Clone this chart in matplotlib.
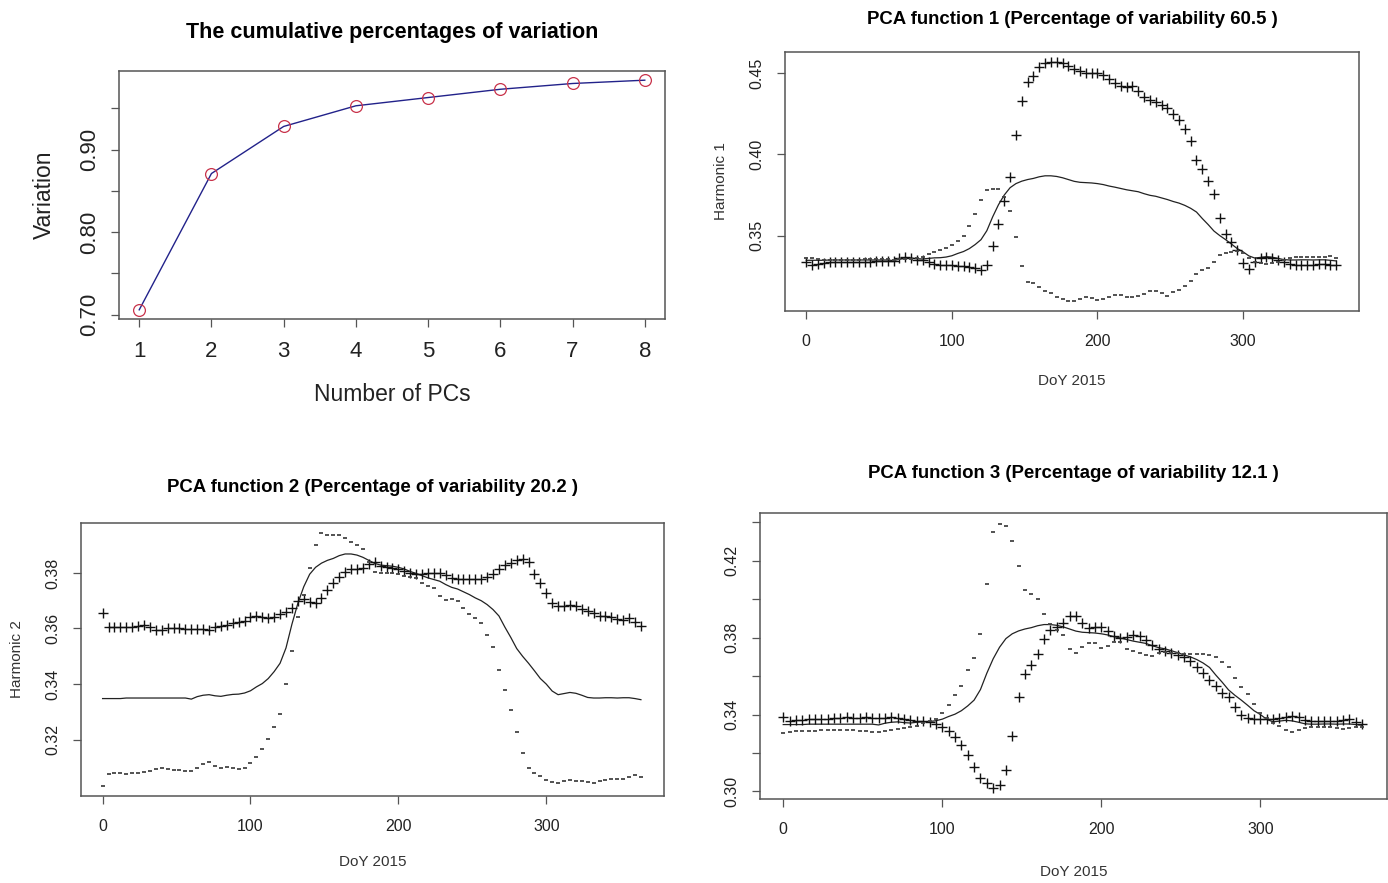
# recreate the fda PCA summary figure (4 panels)
import numpy as np
import matplotlib
matplotlib.use("Agg")
import matplotlib.pyplot as plt

plt.rcParams['font.family'] = ['Liberation Sans', 'DejaVu Sans']

# cumulative proportion of variation explained
n_pcs = [1, 2, 3, 4, 5, 6, 7, 8]
cum_var = [0.706, 0.871, 0.928, 0.953, 0.963, 0.973, 0.980, 0.984]

# day of year grid (every 4 days)
days = list(range(0, 365, 4))

# mean function (same in every panel)
mean_fd = [
    .3348, .3348, .3348, .3348, .3350, .3350, .3350, .3350, .3350, .3350,
    .3350, .3350, .3350, .3350, .3350, .3346, .3355, .3360, .3362, .3358,
    .3356, .3360, .3363, .3364, .3368, .3376, .3390, .3402, .3420, .3445,
    .3475, .3530, .3615, .3690, .3750, .3795, .3820, .3835, .3845, .3852,
    .3862, .3868, .3868, .3864, .3856, .3845, .3834, .3828, .3826, .3824,
    .3820, .3814, .3805, .3798, .3790, .3782, .3776, .3770, .3758, .3748,
    .3742, .3732, .3722, .3710, .3700, .3686, .3668, .3645, .3605, .3568,
    .3528, .3500, .3475, .3448, .3420, .3400, .3375, .3362, .3366, .3370,
    .3367, .3360, .3352, .3350, .3350, .3351, .3351, .3350, .3351, .3351,
    .3348, .3344]

# harmonic 1: mean + / - component
plus1 = [
    .3340, .3322, .3328, .3332, .3335, .3337, .3338, .3340, .3340, .3340,
    .3338, .3340, .3342, .3344, .3345, .3346, .3360, .3370, .3362, .3352,
    .3348, .3340, .3328, .3320, .3319, .3318, .3316, .3313, .3306, .3298,
    .3290, .3320, .3433, .3570, .3716, .3860, .4120, .4330, .4443, .4485,
    .4535, .4562, .4570, .4571, .4562, .4542, .4524, .4512, .4501, .4501,
    .4501, .4490, .4465, .4438, .4418, .4416, .4420, .4392, .4355, .4335,
    .4322, .4305, .4283, .4250, .4210, .4159, .4080, .3965, .3910, .3835,
    .3757, .3608, .3512, .3458, .3410, .3330, .3295, .3335, .3364, .3366,
    .3361, .3350, .3335, .3325, .3320, .3320, .3320, .3322, .3328, .3325,
    .3320, .3320]
minus1 = [
    .3360, .3362, .3355, .3352, .3352, .3352, .3352, .3352, .3352, .3352,
    .3354, .3354, .3354, .3354, .3354, .3352, .3354, .3356, .3358, .3362,
    .3368, .3385, .3398, .3412, .3425, .3440, .3466, .3495, .3560, .3636,
    .3722, .3780, .3788, .3788, .3735, .3650, .3490, .3310, .3215, .3206,
    .3185, .3158, .3146, .3125, .3110, .3100, .3095, .3112, .3120, .3113,
    .3105, .3112, .3124, .3136, .3132, .3124, .3120, .3127, .3142, .3160,
    .3162, .3148, .3130, .3150, .3168, .3188, .3220, .3265, .3290, .3298,
    .3338, .3382, .3395, .3400, .3403, .3395, .3360, .3335, .3330, .3328,
    .3330, .3335, .3350, .3365, .3368, .3368, .3368, .3368, .3368, .3368,
    .3372, .3365]

# harmonic 2
plus2 = [
    .3655, .3606, .3605, .3606, .3606, .3606, .3608, .3612, .3605, .3596,
    .3595, .3600, .3601, .3600, .3598, .3599, .3598, .3597, .3594, .3605,
    .3610, .3613, .3618, .3624, .3628, .3640, .3646, .3643, .3637, .3640,
    .3652, .3661, .3675, .3700, .3706, .3695, .3692, .3710, .3740, .3765,
    .3786, .3802, .3814, .3814, .3818, .3832, .3838, .3826, .3820, .3818,
    .3813, .3808, .3800, .3796, .3797, .3800, .3800, .3800, .3792, .3780,
    .3779, .3779, .3777, .3777, .3779, .3785, .3795, .3814, .3830, .3835,
    .3848, .3850, .3840, .3795, .3762, .3728, .3690, .3682, .3682, .3684,
    .3680, .3670, .3662, .3655, .3646, .3644, .3640, .3634, .3632, .3638,
    .3624, .3608]
minus2 = [
    .3034, .3078, .3080, .3079, .3078, .3080, .3082, .3085, .3088, .3094,
    .3098, .3094, .3092, .3090, .3089, .3089, .3100, .3114, .3120, .3106,
    .3098, .3101, .3099, .3096, .3098, .3116, .3138, .3166, .3204, .3245,
    .3292, .3400, .3520, .3640, .3720, .3817, .3900, .3943, .3937, .3937,
    .3936, .3926, .3910, .3901, .3885, .3840, .3803, .3800, .3800, .3798,
    .3795, .3790, .3786, .3780, .3765, .3753, .3745, .3718, .3701, .3707,
    .3698, .3675, .3652, .3636, .3619, .3576, .3535, .3452, .3378, .3308,
    .3226, .3152, .3098, .3082, .3071, .3056, .3048, .3046, .3052, .3055,
    .3052, .3050, .3047, .3046, .3050, .3054, .3058, .3058, .3058, .3066,
    .3074, .3066]

# harmonic 3
plus3 = [
    .3385, .3368, .3372, .3374, .3375, .3376, .3376, .3378, .3380, .3383,
    .3385, .3383, .3384, .3385, .3382, .3380, .3383, .3385, .3380, .3376,
    .3372, .3369, .3365, .3360, .3352, .3337, .3315, .3283, .3242, .3190,
    .3128, .3068, .3045, .3016, .3036, .3110, .3290, .3490, .3610, .3660,
    .3716, .3795, .3838, .3856, .3878, .3915, .3910, .3876, .3850, .3856,
    .3854, .3836, .3810, .3797, .3804, .3814, .3809, .3788, .3763, .3742,
    .3730, .3721, .3712, .3698, .3676, .3646, .3615, .3580, .3548, .3514,
    .3490, .3440, .3396, .3381, .3377, .3377, .3377, .3377, .3380, .3389,
    .3393, .3386, .3372, .3366, .3364, .3364, .3364, .3366, .3372, .3376,
    .3362, .3352]
minus3 = [
    .3305, .3310, .3313, .3315, .3316, .3316, .3318, .3318, .3319, .3320,
    .3320, .3318, .3315, .3312, .3311, .3311, .3312, .3318, .3327, .3330,
    .3334, .3342, .3355, .3366, .3375, .3408, .3448, .3500, .3550, .3630,
    .3693, .3820, .4080, .4350, .4393, .4383, .4300, .4170, .4050, .4025,
    .4000, .3925, .3870, .3840, .3815, .3740, .3719, .3750, .3770, .3770,
    .3748, .3754, .3775, .3778, .3740, .3733, .3722, .3710, .3704, .3720,
    .3726, .3721, .3718, .3716, .3716, .3716, .3716, .3712, .3700, .3672,
    .3645, .3590, .3545, .3505, .3455, .3410, .3380, .3357, .3340, .3320,
    .3310, .3318, .3328, .3334, .3336, .3335, .3333, .3330, .3327, .3330,
    .3333, .3333]

titles = ["PCA function 1 (Percentage of variability 60.5 )",
          "PCA function 2 (Percentage of variability 20.2 )",
          "PCA function 3 (Percentage of variability 12.1 )"]
ylabels = ["Harmonic 1", "Harmonic 2", ""]
yticks = [[0.35, 0.40, 0.45],
          [0.32, 0.34, 0.36, 0.38],
          [0.30, 0.32, 0.34, 0.36, 0.38, 0.40, 0.42, 0.44]]
ylabel_every = [1, 1, 2]

frame_col = "#555555"
W, H = 1388, 883


def r_style(ax, fs, xpad, ypad):
    # R base graphics look: grey box, outward ticks, rotated y labels
    for s in ax.spines.values():
        s.set_color(frame_col)
        s.set_linewidth(1.1)
    ax.tick_params(direction="out", length=5.5, width=0.9, color=frame_col,
                   labelsize=fs, labelcolor="#222222")
    ax.tick_params(axis="x", pad=xpad)
    ax.tick_params(axis="y", pad=ypad)


def r_lim(vals):
    lo, hi = min(vals), max(vals)
    pad = 0.04 * (hi - lo)
    return lo - pad, hi + pad


fig = plt.figure(figsize=(W / 100, H / 100), dpi=100)


def box(x0, y0, x1, y1):
    # pixel box -> figure fraction rect
    return [x0 / W, 1 - y1 / H, (x1 - x0) / W, (y1 - y0) / H]


# panel 0: cumulative variation
ax0 = fig.add_axes(box(119, 71, 665, 319))
ax0.plot(n_pcs, cum_var, color="#22228a", lw=1.0, zorder=1)
ax0.plot(n_pcs, cum_var, "o", mfc="none", mec="#c8324a", ms=8.5, mew=0.9,
         zorder=2)
ax0.set_xlim(r_lim(n_pcs))
ax0.set_ylim(r_lim(cum_var))
ax0.set_xticks(n_pcs)
ax0.set_yticks([0.70, 0.75, 0.80, 0.85, 0.90, 0.95])
ax0.set_yticklabels(["0.70", "", "0.80", "", "0.90", ""], rotation=90,
                    va="center")
r_style(ax0, 16, 10.5, 8)
ax0.set_xlabel("Number of PCs", fontsize=16.5, labelpad=15, color="#222222")
ax0.set_ylabel("Variation", fontsize=16.5, labelpad=17, color="#222222")
ax0.set_title("The cumulative percentages of variation", fontsize=15.5,
              fontweight="bold", pad=24)

# harmonic panels
rects = [box(785, 52, 1359, 311), box(81, 523, 664, 796),
         box(760, 513, 1387, 799)]
pluses = [plus1, plus2, plus3]
minuses = [minus1, minus2, minus3]
title_pad = [20, 22, 25]
xlab_pad = [18, 15, 20]

for i in range(3):
    ax = fig.add_axes(rects[i])
    ax.plot(days, mean_fd, color="#222222", lw=0.9, zorder=1)
    ax.plot(days, pluses[i], "+", color="#111111", ms=7, mew=1.0,
            zorder=2)
    ax.plot(days, minuses[i], "_", color="#444444", ms=3.5, mew=1.3,
            zorder=2)
    ax.set_xlim(-14.6, 379.6)
    ax.set_ylim(r_lim(mean_fd + pluses[i] + minuses[i]))
    ax.set_xticks([0, 100, 200, 300])
    ax.set_yticks(yticks[i])
    labs = []
    for k, t in enumerate(yticks[i]):
        labs.append("%.2f" % t if k % ylabel_every[i] == 0 else "")
    ax.set_yticklabels(labs, rotation=90, va="center")
    r_style(ax, 11.5, 11, 9.5)
    ax.set_xlabel("DoY 2015", fontsize=11, labelpad=xlab_pad[i],
                  color="#333333")
    if ylabels[i]:
        ax.set_ylabel(ylabels[i], fontsize=11, labelpad=15,
                      color="#333333")
    ax.set_title(titles[i], fontsize=13.4, fontweight="bold",
                 pad=title_pad[i])

fig.savefig("out.png", dpi=100, facecolor="white")
